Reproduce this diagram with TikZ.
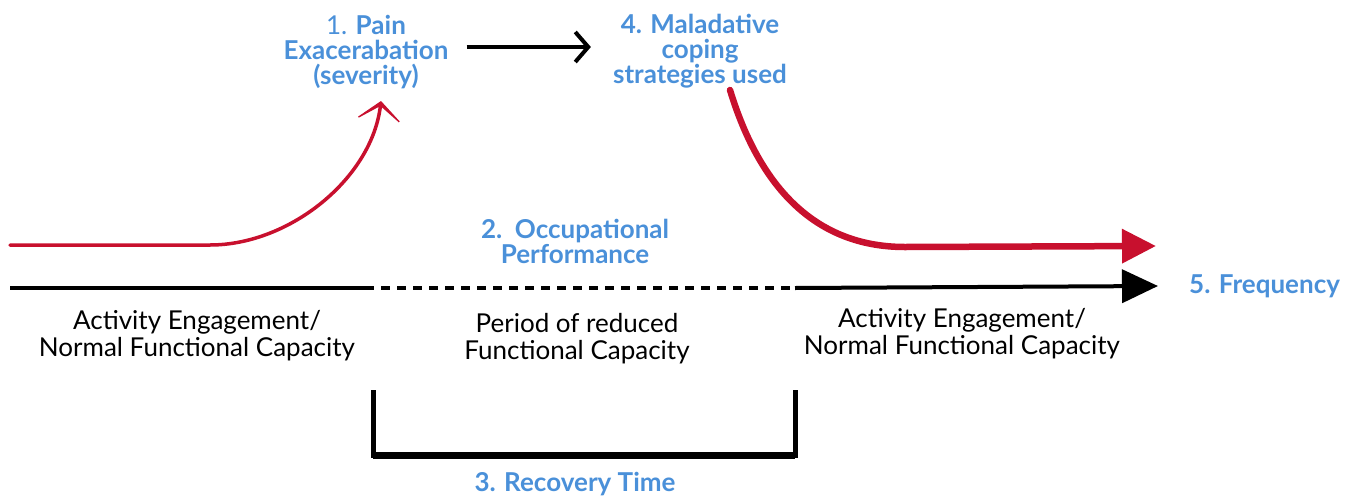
\documentclass[tikz,border=0pt]{standalone}
\usepackage{fontspec}
\setmainfont{Lato}
\usetikzlibrary{arrows.meta}
\definecolor{labelblue}{RGB}{74,144,217}
\definecolor{curvered}{RGB}{200,16,46}

\begin{document}
\begin{tikzpicture}[x=1pt,y=-1pt,
    bluelabel/.style={text=labelblue,font=\fontsize{26}{25}\selectfont\bfseries,align=center,inner sep=0pt},
    blacklabel/.style={font=\fontsize{26}{27}\selectfont,align=center,inner sep=0pt},
    timeline/.style={line width=4pt},
    redline/.style={draw=curvered,line cap=round}]
    \useasboundingbox (0,0) rectangle (1353,496);
    \node[bluelabel] (pain) at (366,52) {{\mdseries 1.} Pain\\Exacerabation\\(severity)};
    \node[bluelabel] (coping) at (700,51) {4. Maladative\\coping\\strategies used};
    \node[bluelabel] (occperf) at (575,241) {2.\ \ Occupational\\Performance};
    \node[bluelabel,anchor=west] (freq) at (1189,286) {5. Frequency};
    \node[bluelabel] (recovery) at (575,484) {3. Recovery Time};
    \node[blacklabel] (leftcap) at (197,336) {Activity Engagement/\\Normal Functional Capacity};
    \node[blacklabel] (midcap) at (577,339) {Period of reduced\\Functional Capacity};
    \node[blacklabel] (rightcap) at (962,334) {Activity Engagement/\\Normal Functional Capacity};
    \coordinate (redstart) at (10,245);
    \coordinate (redbend) at (210,245);
    \coordinate (painin) at (381,101);
    \coordinate (copingout) at (730,90);
    \coordinate (redflat) at (905,247);
    \coordinate (redend) at (1156,246);
    \coordinate (lstart) at (10,288);
    \coordinate (dashA) at (365,288);
    \coordinate (dashB) at (795,288);
    \coordinate (brtop1) at (373,390);
    \coordinate (brtop2) at (795,390);
    \coordinate (brbot) at (795,455);
    \draw[line width=4pt,-{Straight Barb[length=13pt,width=30pt]}] ([xshift=18pt,yshift=5pt]pain.east) -- ([xshift=-22pt,yshift=4pt]coping.west);
    \draw[redline,line width=3.5pt,-{Stealth[length=26pt,width=60pt,inset=21pt]}] (redstart) -- (redbend) .. controls (290,245) and (372,178) .. (painin);
    \draw[redline,line width=6.5pt,-{Triangle[length=34pt,width=33pt]}] (copingout) .. controls (765,205) and (830,247) .. (redflat) -- (redend);
    \draw[timeline] (lstart) -- (dashA);
    \draw[timeline,dash pattern=on 9pt off 7pt] (dashA) -- (dashB);
    \draw[timeline,-{Triangle[length=36pt,width=33pt]}] (dashB) -- ([xshift=-31pt]freq.west);
    \draw[line width=5pt] (brtop1) |- (brbot) -- (brtop2);
    \draw[line width=7pt] (brtop1 |- brbot) -- (brbot);
\end{tikzpicture}
\end{document}
